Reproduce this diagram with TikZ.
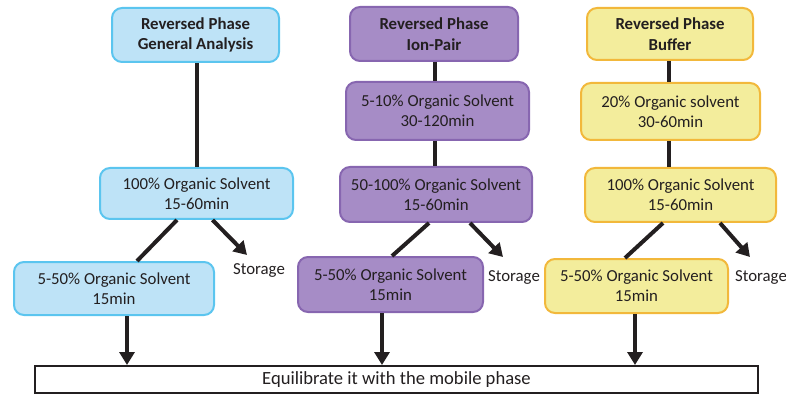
\documentclass[tikz,border=0pt]{standalone}
\usepackage{fontspec}
\setmainfont{Carlito}
\usetikzlibrary{arrows.meta,calc}
\definecolor{bfill}{HTML}{BEE3F7}
\definecolor{bdraw}{HTML}{5BC5EF}
\definecolor{pfill}{HTML}{A68CC6}
\definecolor{pdraw}{HTML}{8766B0}
\definecolor{yfill}{HTML}{F3ED9C}
\definecolor{ydraw}{HTML}{F2B83B}
\definecolor{ink}{HTML}{231F20}
\tikzset{
  x=1pt, y=-1pt,
  box/.style={rounded corners=10pt, line width=2pt, inner sep=0pt, align=center, text=ink,
    font=\fontsize{16.8}{20}\selectfont},
  bluebox/.style={box, draw=bdraw, fill=bfill},
  purplebox/.style={box, draw=pdraw, fill=pfill},
  yellowbox/.style={box, draw=ydraw, fill=yfill},
  title/.style={font=\fontsize{16.8}{20.5}\selectfont\bfseries},
  conn/.style={draw=ink, line width=4pt},
  arr/.style={conn, -{Triangle[width=15pt,length=13pt]}},
  lbl/.style={text=ink, inner sep=0pt, font=\fontsize{16.8}{20}\selectfont},
}
\begin{document}
\begin{tikzpicture}
\useasboundingbox (0,0) rectangle (786,395);
% blue column
\node[bluebox, title, minimum width=167pt, minimum height=54pt] (B1) at (195.5,35) {Reversed Phase\\General Analysis};
\node[bluebox, minimum width=193pt, minimum height=51pt] (B2) at (196.5,193.5) {100\% Organic Solvent\\15-60min};
\node[bluebox, minimum width=200pt, minimum height=53pt] (B3) at (114,288.5) {5-50\% Organic Solvent\\15min};
\node[lbl] (BS) at (259,270) {Storage};
% purple column
\node[purplebox, title, minimum width=168pt, minimum height=54pt] (P1) at (434,34) {Reversed Phase\\Ion-Pair};
\node[purplebox, minimum width=183pt, minimum height=58pt] (P2) at (437.5,111) {5-10\% Organic Solvent\\30-120min};
\node[purplebox, minimum width=192pt, minimum height=55pt] (P3) at (436,194.5) {50-100\% Organic Solvent\\15-60min};
\node[purplebox, minimum width=185pt, minimum height=55pt] (P4) at (390.5,284.5) {5-50\% Organic Solvent\\15min};
\node[lbl] (PS) at (514,277) {Storage};
% yellow column
\node[yellowbox, title, minimum width=166pt, minimum height=52pt] (Y1) at (670,34) {Reversed Phase\\Buffer};
\node[yellowbox, minimum width=179pt, minimum height=57pt] (Y2) at (670.5,111.5) {20\% Organic solvent\\30-60min};
\node[yellowbox, minimum width=191pt, minimum height=54pt] (Y3) at (680.5,195) {100\% Organic Solvent\\15-60min};
\node[yellowbox, minimum width=183pt, minimum height=54pt] (Y4) at (636.5,286) {5-50\% Organic Solvent\\15min};
\node[lbl] (YS) at (761,277) {Storage};
% bottom bar
\node[draw=ink, line width=2pt, fill=white, minimum width=723pt, minimum height=27pt, inner sep=0pt,
  text=ink, font=\fontsize{18.6}{20}\selectfont] (Eq) at (396.5,379.5) {Equilibrate it with the mobile phase};
% storage arrow ends
\coordinate (BSt) at (247,255);
\coordinate (PSt) at (503,257);
\coordinate (YSt) at (750,257);
% connectors blue
\draw[conn] ([xshift=1.5pt]B1.south) -- ([xshift=1.5pt]B1.south |- B2.north);
\draw[conn] ([xshift=-19.5pt]B2.south) -- ([xshift=23pt]B3.north);
\draw[arr] ([xshift=16pt]B2.south) -- (BSt);
\draw[arr] ([xshift=13pt]B3.south) -- ([xshift=13pt]B3.south |- Eq.north);
% connectors purple
\draw[conn] ([xshift=1pt]P1.south) -- ([xshift=1pt]P1.south |- P2.north);
\draw[conn] ([xshift=1pt]P1.south |- P2.south) -- ([xshift=1pt]P1.south |- P3.north);
\draw[conn] ([xshift=-7pt]P3.south) -- ([xshift=1.5pt]P4.north);
\draw[arr] ([xshift=34pt]P3.south) -- (PSt);
\draw[arr] ([xshift=-8.5pt]P4.south) -- ([xshift=-8.5pt]P4.south |- Eq.north);
% connectors yellow
\draw[conn] ([xshift=-1pt]Y1.south) -- ([xshift=-1pt]Y1.south |- Y2.north);
\draw[conn] ([xshift=-1pt]Y1.south |- Y2.south) -- ([xshift=-1pt]Y1.south |- Y3.north);
\draw[conn] ([xshift=-17.5pt]Y3.south) -- ([xshift=-11.5pt]Y4.north);
\draw[arr] ([xshift=39.5pt]Y3.south) -- (YSt);
\draw[arr] ([xshift=-1.5pt]Y4.south) -- ([xshift=-1.5pt]Y4.south |- Eq.north);
\end{tikzpicture}
\end{document}
